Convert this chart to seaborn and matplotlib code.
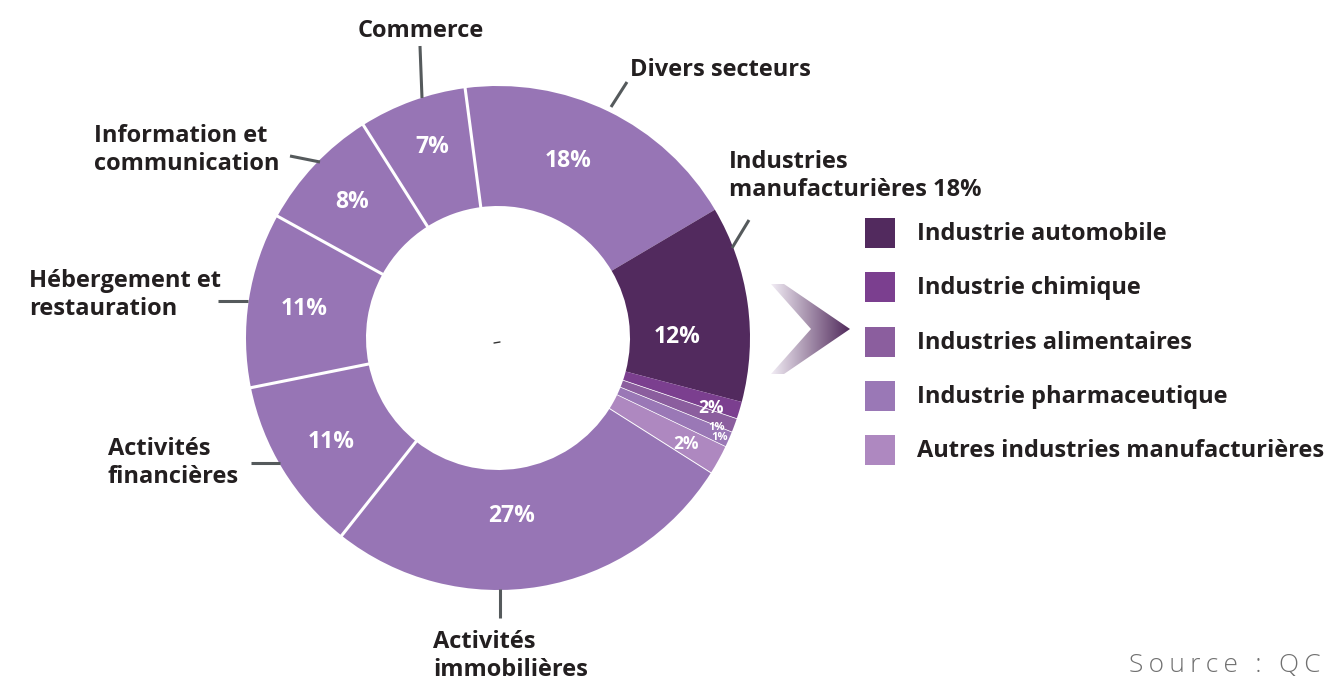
import numpy as np
import matplotlib
matplotlib.use("Agg")
import matplotlib.pyplot as plt
import seaborn as sns
from matplotlib.patches import Polygon, Rectangle
from matplotlib.colors import LinearSegmentedColormap

# Données : répartition par secteur (sens horaire, depuis "Divers secteurs")
secteurs = ["Divers secteurs", "Industrie automobile", "Industrie chimique",
            "Industries alimentaires", "Industrie pharmaceutique",
            "Autres industries manufacturières", "Activités immobilières",
            "Activités financières", "Hébergement et restauration",
            "Information et communication", "Commerce"]
parts = [18.6, 12.6, 1.1, 0.9, 1.0, 1.9, 26.7, 11.2, 11.2, 8.0, 6.9]
etiquettes_pct = ["18%", "12%", "2%", "1%", "1%", "2%", "27%", "11%", "11%", "8%", "7%"]
couleurs = ["#9775b5", "#522a5e", "#7b3f8f", "#8b5e9e", "#9a78b6", "#ae88c0",
            "#9775b5", "#9775b5", "#9775b5", "#9775b5", "#9775b5"]

legende = ["Industrie automobile", "Industrie chimique", "Industries alimentaires",
           "Industrie pharmaceutique", "Autres industries manufacturières"]
legende_couleurs = ["#522a5e", "#7b3f8f", "#8b5e9e", "#9a78b6", "#ae88c0"]

sns.set_theme(style="white")
plt.rcParams['font.family'] = ['Open Sans', 'DejaVu Sans']

W, H = 1339, 680
def P(x, y):
    return x, H - y

TXT = "#231f20"
LIGNE = "#555a5c"

fig = plt.figure(figsize=(W / 100, H / 100), dpi=100)
ax = fig.add_axes([0, 0, 1, 1])

cx, cy = P(498, 338)
r_out, r_in = 252, 132
start = 97.5
ax.pie(parts, colors=couleurs, startangle=start, counterclock=False,
       radius=r_out, center=(cx, cy),
       wedgeprops=dict(width=r_out - r_in, edgecolor='none', linewidth=0))

# séparateurs blancs entre les parts
cum = np.concatenate([[0], np.cumsum(parts)[:-1]])
angles = np.deg2rad(start - 360 * cum / sum(parts))
sep_lw = [2.2, 0, 0, 0.5, 0.5, 0.5, 0.7, 2.2, 2.2, 2.2, 2.2]
for a, lw in zip(angles, sep_lw):
    if lw > 0:
        ax.plot([cx + (r_in - 1) * np.cos(a), cx + (r_out + 1) * np.cos(a)],
                [cy + (r_in - 1) * np.sin(a), cy + (r_out + 1) * np.sin(a)],
                color="white", lw=lw, solid_capstyle='butt', zorder=3)

# pourcentages dans l'anneau
pct_pos = [(568, 161), (677, 337), (711, 408), (717, 427), (720, 438), (686, 444),
           (512, 516), (331, 442), (304, 309), (352, 202), (432, 147)]
pct_size = [16.5, 16.5, 12.5, 8, 8, 12.5, 16.5, 16.5, 16.5, 16.5, 16.5]
for lab, (x, y), s in zip(etiquettes_pct, pct_pos, pct_size):
    ax.text(*P(x, y), lab, color="white", fontsize=s, fontweight="bold",
            ha="center", va="center", zorder=4)

# étiquettes extérieures avec traits de rappel
ext_labels = [
    (["Commerce"], 421, 31, "center", [(420, 46), (422, 98)]),
    (["Divers secteurs"], 630, 70, "left", [(627, 82), (611, 107)]),
    (["Industries", "manufacturières 18%"], 729, 162, "left", [(749, 220), (732, 248)]),
    (["Information et", "communication"], 94, 136, "left", [(290, 156), (320, 162)]),
    (["Hébergement et", "restauration"], 29, 281, "left", [(218, 301), (248, 301)]),
    (["Activités", "financières"], 108, 449, "left", [(251, 463), (280, 463)]),
    (["Activités", "immobilières"], 433, 642, "left", [(500, 589), (500, 618)]),
]
for lignes, x, y, ha, seg in ext_labels:
    for i, l in enumerate(lignes):
        ax.text(*P(x, y + 28 * i), l, color=TXT, fontsize=17, fontweight="bold",
                ha=ha, va="center", zorder=4)
    (x0, y0), (x1, y1) = seg
    ax.plot([x0, x1], [H - y0, H - y1], color=LIGNE, lw=2.2, solid_capstyle='butt', zorder=4)

# petit trait au centre
ax.plot([494, 500], [H - 343, H - 342], color="#333333", lw=1)

# chevron en dégradé
chev = [P(771, 284), P(784, 284), P(850, 329), P(784, 374), P(771, 374), P(811, 329)]
poly = Polygon(chev, closed=True, facecolor='none', edgecolor='none')
ax.add_patch(poly)
cmap = LinearSegmentedColormap.from_list("chev", ["#f2edf5", "#4e2759"])
grad = np.linspace(0, 1, 256).reshape(1, -1)
im = ax.imshow(grad, extent=(771, 851, H - 375, H - 283), cmap=cmap,
               aspect='auto', zorder=2, interpolation='bilinear')
im.set_clip_path(poly)

# légende de la décomposition
leg_y = [233, 287, 342, 396, 450]
for lab, c, y in zip(legende, legende_couleurs, leg_y):
    ax.add_patch(Rectangle(P(865, y + 15), 30, 30, facecolor=c, edgecolor='none'))
    ax.text(*P(917, y + 1), lab, color=TXT, fontsize=17, fontweight="bold",
            ha="left", va="center")

ax.text(*P(1129, 672), "\u2009".join("Source : QC"), color="#707070", fontsize=19,
        fontweight="light", ha="left", va="baseline")

ax.set_xlim(0, W)
ax.set_ylim(0, H)
ax.set_aspect('equal')
ax.axis('off')
fig.savefig("out.png", dpi=100, facecolor="white")
